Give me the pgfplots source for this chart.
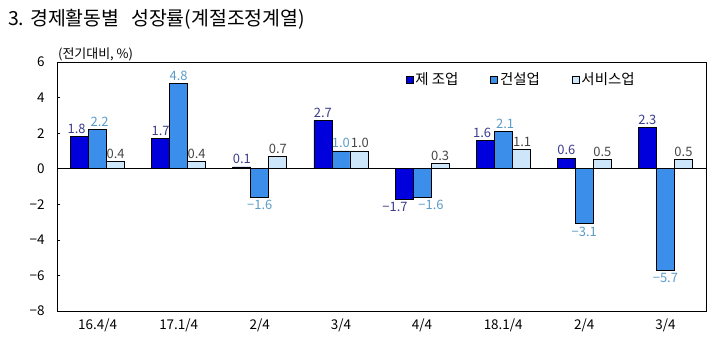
\documentclass[border=0pt]{standalone}
\usepackage{pgfplots}
\pgfplotsset{compat=1.18}
\usepackage{pgfplotstable}
\usepackage{fontspec}
\setmainfont{Noto Sans CJK KR}
\definecolor{cA}{RGB}{0,0,220}
\definecolor{cB}{RGB}{60,142,235}
\definecolor{cC}{RGB}{205,230,250}
\definecolor{lA}{RGB}{60,60,140}
\definecolor{lB}{RGB}{90,156,200}
\definecolor{lC}{RGB}{70,70,70}
\pgfplotstableread{
x y lab dx
0 1.8 1.8 -3
1 1.7 1.7 0
2 0.1 0.1 0
3 2.7 2.7 0
4 -1.7 −1.7 -9
5 1.6 1.6 -3
6 0.6 0.6 0
7 2.3 2.3 0
}\manu
\pgfplotstableread{
x y lab dx
0 2.2 2.2 2
1 4.8 4.8 0
2 -1.6 −1.6 0
3 1.0 1.0 0
4 -1.6 −1.6 9
5 2.1 2.1 2
6 -3.1 −3.1 0
7 -5.7 −5.7 0
}\cons
\pgfplotstableread{
x y lab dx
0 0.4 0.4 0
1 0.4 0.4 0
2 0.7 0.7 0
3 1.0 1.0 1
4 0.3 0.3 0
5 1.1 1.1 1
6 0.5 0.5 0
7 0.5 0.5 0
}\serv
\begin{document}
\begin{tikzpicture}[x=1bp,y=1bp]
\useasboundingbox (0,0) rectangle (720,350);
\node[anchor=west, inner sep=0] at (8,331) {\fontsize{19.5}{22}\selectfont 3. 경제활동별\hspace{0.6em}성장률(계절조정계열)};
\node[anchor=west, inner sep=0] at (58,296) {\fontsize{13}{15}\selectfont (전기대비, \%)};
\begin{axis}[
  at={(57bp,39bp)}, anchor=south west,
  scale only axis, width=649bp, height=249bp,
  ybar=0pt, bar width=18bp,
  xmin=-0.5, xmax=7.5, ymin=-8, ymax=6,
  xtick={0,...,7},
  xticklabels={16.4/4,17.1/4,2/4,3/4,4/4,18.1/4,2/4,3/4},
  x tick style={draw=none},
  ytick={-8,-6,-4,-2,0,2,4,6},
  yticklabels={−8,−6,−4,−2,0,2,4,6},
  y tick style={black, line width=0.6bp},
  major tick length=3bp,
  tick align=inside,
  ytick pos=left,
  xticklabel style={font=\fontsize{13.5}{15}\selectfont, yshift=-4bp},
  yticklabel style={font=\fontsize{13.5}{15}\selectfont, xshift=-9bp},
  axis line style={black, line width=0.8bp},
  legend style={draw=none, fill=none, at={(0.537,0.965)}, anchor=north west,
    legend columns=3, font=\fontsize{14.5}{16}\selectfont, inner sep=0pt,
    /tikz/every even column/.append style={column sep=30bp}},
  legend image code/.code={\draw[#1, line width=0.6bp] (0bp,-3.5bp) rectangle (7bp,3.5bp);},
  nodes near coords,
  point meta=explicit symbolic,
  visualization depends on={rawy \as \rawy},
  visualization depends on={\thisrow{dx} \as \dx},
  nodes near coords style={font=\fontsize{13}{15}\selectfont, inner sep=2.5bp,
    xshift=\dx bp,
    anchor=\ifdim\rawy pt<0pt north\else south\fi},
]
\addplot[draw=black, line width=0.8bp, fill=cA, every node near coord/.append style={text=lA}] table[x=x, y=y, meta=lab] {\manu};
\addplot[draw=black, line width=0.8bp, fill=cB, every node near coord/.append style={text=lB}] table[x=x, y=y, meta=lab] {\cons};
\addplot[draw=black, line width=0.8bp, fill=cC, every node near coord/.append style={text=lC}] table[x=x, y=y, meta=lab] {\serv};
\legend{제 조업,건설업,서비스업}
\draw[black, line width=0.8bp] (axis cs:-0.5,0) -- (axis cs:7.5,0);
\end{axis}
\end{tikzpicture}
\end{document}
